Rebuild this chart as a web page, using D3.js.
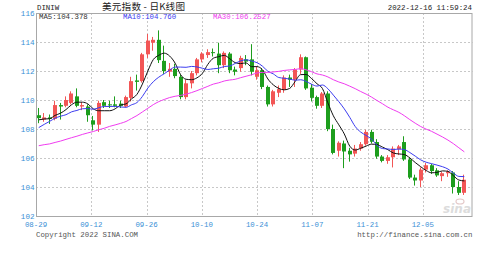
<!DOCTYPE html>
<html><head><meta charset="utf-8">
<script src="https://cdn.jsdelivr.net/npm/d3@7"></script>
<style>
html,body{margin:0;padding:0;background:#fff;}
svg{display:block;}
text{font-family:"Liberation Mono","DejaVu Sans Mono",monospace;}
</style></head>
<body>
<script>
// ---- data ----
const tickLabels = ["08-29","09-12","09-26","10-10","10-24","11-07","11-21","12-05"];
const yTicks = [102,104,106,108,110,112,114,116];
const open  = [108.95,108.65,108.8,108.7,109.65,109.6,109.8,110.25,109.55,109.55,108.6,108.3,109.85,109.7,109.7,109.75,109.55,110.15,111.35,111.3,113.15,113.95,114.15,112.7,111.95,112.15,111.6,110.2,111.15,111.85,112.8,113.1,113.3,113.2,112.4,113.2,112.1,112.2,112.8,112.8,111.6,112.05,110.9,109.7,110.5,110.7,111.55,111.4,112.1,112.95,110.85,110.2,109.6,110.45,108.0,106.5,107.0,106.5,106.3,106.65,106.95,107.8,107.1,106.1,105.8,106.05,106.6,107.1,105.9,104.65,104.45,105.2,105.5,105.15,104.75,104.95,105.0,104.0,103.6];
const high  = [109.45,109.1,109.0,109.95,109.8,110.25,110.6,110.8,109.85,109.7,108.9,109.95,110.0,109.95,110.25,109.95,110.3,111.6,111.75,113.25,114.55,114.35,114.8,113.75,112.55,112.5,111.75,111.4,112.0,112.9,113.3,113.5,113.55,113.95,113.35,113.3,112.3,113.05,113.1,113.85,112.3,112.2,111.0,110.7,111.0,111.7,111.75,112.2,113.15,113.0,111.1,110.3,110.55,110.6,108.3,107.15,107.2,106.7,106.9,107.1,107.95,107.95,107.3,106.2,106.2,106.8,106.9,107.5,106.05,104.85,105.35,105.65,105.6,105.3,105.05,105.15,105.1,104.4,104.85];
const low   = [108.4,108.5,108.35,108.6,108.65,109.5,109.7,109.5,109.3,108.5,107.9,107.8,109.45,109.45,109.5,109.45,109.5,109.9,110.65,111.2,112.9,113.4,112.55,111.8,111.6,111.5,110.05,110.05,110.8,111.7,112.6,112.9,113.0,111.85,112.2,111.85,111.7,111.95,112.4,111.7,111.4,110.75,109.55,109.55,110.2,110.5,110.9,110.9,111.8,110.7,109.9,109.4,109.45,107.85,106.25,106.1,105.3,105.75,106.1,106.5,106.85,107.0,105.95,105.7,105.6,105.35,106.2,105.8,104.55,104.1,104.0,105.0,104.9,104.7,104.4,104.7,103.55,103.45,103.45];
const close = [108.75,108.8,108.7,109.65,109.55,110.0,110.45,109.6,109.65,108.95,108.3,109.8,109.6,109.65,109.6,109.6,110.2,111.3,111.25,113.15,114.1,114.15,112.75,112.0,112.15,111.65,110.2,111.15,111.85,112.8,113.2,113.3,113.25,112.4,113.25,112.05,111.95,112.9,112.65,111.95,112.05,110.9,109.7,110.6,110.75,111.55,111.4,112.1,112.95,110.8,110.15,109.6,110.45,108.0,106.35,107.05,106.45,106.25,106.65,106.95,107.8,107.12,106.1,105.8,106.05,106.65,106.8,105.9,104.65,104.45,105.2,105.5,105.1,104.8,104.95,105.05,104.0,103.6,104.5];
// closes of the 29 sessions before the first candle (needed for the moving averages at the left edge)
const priorCloses = [106.67,107.07,106.6,106.73,106.48,107.06,106.45,105.95,105.85,105.36,106.24,106.5,105.7,106.6,106.35,106.37,105.2,105.1,105.65,106.5,106.6,106.6,107.5,108.15,108.98,108.5,108.6,108.5,108.8];
const maPeriods = [5,10,30];
const maLabels = ["MA5:104.378","MA10:104.760","MA30:106.2527"];
const titleText = "美元指数 - 日K线图";
const symbolText = "DINIW";
const timeText = "2022-12-16 11:59:24";

// ---- layout ----
const W = 480, H = 261;
const L = 36, R = 472.5, T = 13, B = 216;
const slots = 80;
const svg = d3.select("body").append("svg").attr("width", W).attr("height", H);

const x = d3.scaleLinear().domain([-0.5, slots - 0.5]).range([L, R]);
const xt = d3.scaleLinear().domain([0, 7.9]).range([L, R]);
const y = d3.scaleLinear().domain([102, 116]).range([B, T]);

// grid
const g = svg.append("g");
g.selectAll("line.h").data(yTicks.filter(v => v > 102 && v < 116)).enter().append("line")
  .attr("x1", L).attr("x2", R).attr("y1", d => Math.round(y(d)) + 0.5).attr("y2", d => Math.round(y(d)) + 0.5)
  .attr("stroke", "#c8c8c8").attr("stroke-dasharray", "2,2");
g.selectAll("line.v").data(tickLabels.slice(1)).enter().append("line")
  .attr("x1", (d, i) => Math.round(xt(i + 1)) + 0.5).attr("x2", (d, i) => Math.round(xt(i + 1)) + 0.5)
  .attr("y1", T).attr("y2", B)
  .attr("stroke", "#c8c8c8").attr("stroke-dasharray", "2,2");

// frame
svg.append("rect").attr("x", L + 0.5).attr("y", T + 0.5).attr("width", R - L - 1).attr("height", B - T)
  .attr("fill", "none").attr("stroke", "#a8a8a8");

// sina watermark
svg.append("text").attr("x", 471).attr("y", 213).attr("text-anchor", "end")
  .style("font-family", "DejaVu Sans").style("font-style", "italic").style("font-weight", "bold")
  .style("font-size", "12px").attr("fill", "#dcdcdc").text("sina");
svg.append("ellipse").attr("cx", 460).attr("cy", 201.5).attr("rx", 4).attr("ry", 2.5)
  .attr("fill", "none").attr("stroke", "#e4c8c8").attr("stroke-width", 1.2);

// y labels
svg.selectAll("text.yl").data(yTicks).enter().append("text")
  .attr("x", 34.5).attr("y", d => Math.max(y(d), 11) + 2.7).attr("text-anchor", "end")
  .style("font-size", "7.6px").attr("fill", "#3b8fd6").text(d => d);

// x labels
svg.selectAll("text.xl").data(tickLabels).enter().append("text")
  .attr("x", (d, i) => xt(i)).attr("y", 226.5).attr("text-anchor", "middle")
  .style("font-size", "7.4px").attr("fill", "#3b8fd6").text(d => d);

// candles
const candles = svg.append("g");
close.forEach((c, i) => {
  const o = open[i], up = c >= o;
  const col = up ? "#f25656" : "#1d9e1d";
  const bx = Math.round(x(i) - 2);
  candles.append("line").attr("x1", bx + 1.5).attr("x2", bx + 1.5)
    .attr("y1", y(high[i])).attr("y2", y(low[i])).attr("stroke", col).attr("stroke-width", 1);
  const top = y(Math.max(o, c)), bot = y(Math.min(o, c));
  candles.append("rect").attr("x", bx).attr("width", 4)
    .attr("y", top).attr("height", Math.max(1, bot - top)).attr("fill", col);
});

// moving averages
const all = priorCloses.concat(close);
const maColors = ["#111111", "#3c3cf0", "#f03cf0"];
maPeriods.forEach((n, k) => {
  const pts = close.map((c, i) => {
    const end = priorCloses.length + i;
    return [i, d3.mean(all.slice(end - n + 1, end + 1))];
  });
  svg.append("path").datum(pts)
    .attr("d", d3.line().x(d => x(d[0])).y(d => y(d[1])).curve(d3.curveMonotoneX))
    .attr("fill", "none").attr("stroke", maColors[k]).attr("stroke-width", 1);
});

// header texts
svg.append("text").attr("x", 37).attr("y", 9.5).style("font-size", "7.4px").attr("fill", "#222").text(symbolText);
svg.append("text").attr("x", 102).attr("y", 10).style("font-family", "'Noto Sans CJK SC'")
  .style("font-size", "9.6px").attr("fill", "#222")
  .attr("textLength", 83).attr("lengthAdjust", "spacing").text(titleText);
svg.append("text").attr("x", 472).attr("y", 9.5).attr("text-anchor", "end")
  .style("font-size", "7.4px").attr("fill", "#222").text(timeText);
const legX = [39, 123, 213];
maLabels.forEach((t, k) => {
  svg.append("text").attr("x", legX[k]).attr("y", 19.3).style("font-size", "7.4px")
    .attr("fill", k === 0 ? "#333" : maColors[k]).text(t);
});

// footer
svg.append("text").attr("x", 36).attr("y", 236.5).style("font-size", "7.4px").attr("fill", "#555").text("Copyright 2022 SINA.COM");
svg.append("text").attr("x", 472.5).attr("y", 236.5).attr("text-anchor", "end").style("font-size", "7.4px").attr("fill", "#555").text("http://finance.sina.com.cn");
</script>
</body></html>
